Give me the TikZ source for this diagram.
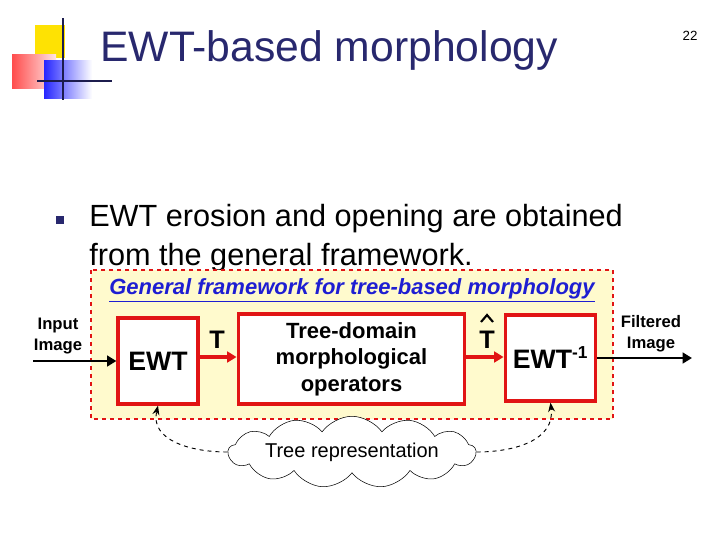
\documentclass[tikz,border=0pt]{standalone}
\usepackage{fontspec}
\setmainfont{Liberation Sans}
\usetikzlibrary{shapes.symbols,arrows.meta}
\definecolor{ttl}{RGB}{40,40,110}
\definecolor{bred}{RGB}{225,20,20}
\definecolor{ybox}{RGB}{255,250,205}
\definecolor{fblue}{RGB}{30,30,210}
\begin{document}
\begin{tikzpicture}[x=0.75pt,y=-0.75pt,
  blk/.style={draw=bred,line width=2.4pt,fill=white,inner sep=0pt,font=\bfseries\fontsize{20}{22}\selectfont,align=center},
  lbl/.style={font=\bfseries\fontsize{12.5}{15.5}\selectfont,align=center,inner sep=0pt},
  rarr/.style={bred,line width=3pt,-{Triangle[length=7pt,width=8pt]}},
  karr/.style={black,line width=2.2pt,-{Triangle[length=7pt,width=8pt]}},
  darr/.style={black,dashed,line width=0.7pt,-{Stealth[length=7pt]}}]
\useasboundingbox (0,0) rectangle (720,540);
\fill[white] (0,0) rectangle (720,540);
% logo
\fill[yellow!85!orange] (35,25) rectangle (65,58);
\shade[left color=red!70,right color=red!10] (12,54) rectangle (56,88);
\shade[left color=blue!85,right color=white] (44,60) rectangle (92,98);
\draw[line width=1.5pt,ttl!70!black] (63,18) -- (63,100);
\draw[line width=1.5pt,ttl!70!black] (37,81) -- (112,81);
\node[anchor=west,text=ttl,font=\fontsize{32}{36}\selectfont,inner sep=0pt] (title) at (100,50) {EWT-based morphology};
\node[font=\fontsize{10}{12}\selectfont] (pg) at (690,36) {22};
% bullet
\fill[ttl] (56,216) rectangle (64,224);
\node[anchor=west,font=\fontsize{23}{29}\selectfont,align=left,inner sep=0pt] (txt) at (89,238)
  {EWT erosion and opening are obtained\\from the general framework.};
% framework box
\draw[bred,dashed,fill=ybox,line width=0.9pt] (91,270) rectangle (613,419);
\node[font=\bfseries\itshape\fontsize{16.5}{18}\selectfont,text=fblue,inner sep=0pt] (ft) at (352,290)
  {\underline{General framework for tree-based morphology}};
\node[blk,minimum width=60pt,minimum height=64.5pt] (ewt) at (158,361) {EWT};
\node[blk,minimum width=170pt,minimum height=67.5pt,font=\bfseries\fontsize{16.5}{20}\selectfont] (tree) at (351.5,359) {Tree-domain\\morphological\\operators};
\node[blk,minimum width=68pt,minimum height=64.5pt] (iewt) at (550.5,358) {EWT\textsuperscript{\fontsize{13}{13}\selectfont -1}};
\coordinate (in) at (33,361);
\coordinate (out) at (692,358);
\draw[karr] (in) -- (ewt.west|-in);
\draw[karr] (iewt.east|-out) -- (out);
\draw[rarr] (ewt.east|-0,357) -- (tree.west|-0,357);
\draw[rarr] (tree.east|-0,357) -- (iewt.west|-0,357);
\node[lbl] (inl) at (58,336) {Input\\Image};
\node[lbl] (outl) at (651,334) {Filtered\\Image};
\node[font=\bfseries\fontsize{19}{20}\selectfont,inner sep=0pt] (t1) at (217,340) {T};
\node[font=\bfseries\fontsize{19}{20}\selectfont,inner sep=0pt] (t2) at (487,340) {T};
\draw[line width=1.6pt] (481,322) -- (487,315) -- (493,322);
\node[cloud,draw,cloud puffs=13,cloud puff arc=110,aspect=6,inner sep=1pt,minimum width=168pt,minimum height=28pt,font=\fontsize{15}{16}\selectfont,fill=white] (cl) at (352,452) {Tree representation};
\draw[darr] (cl.west) .. controls (190,452) and (150,440) .. (ewt.south);
\draw[darr] (cl.east) .. controls (515,452) and (555,440) .. (iewt.south);
\end{tikzpicture}
\end{document}
